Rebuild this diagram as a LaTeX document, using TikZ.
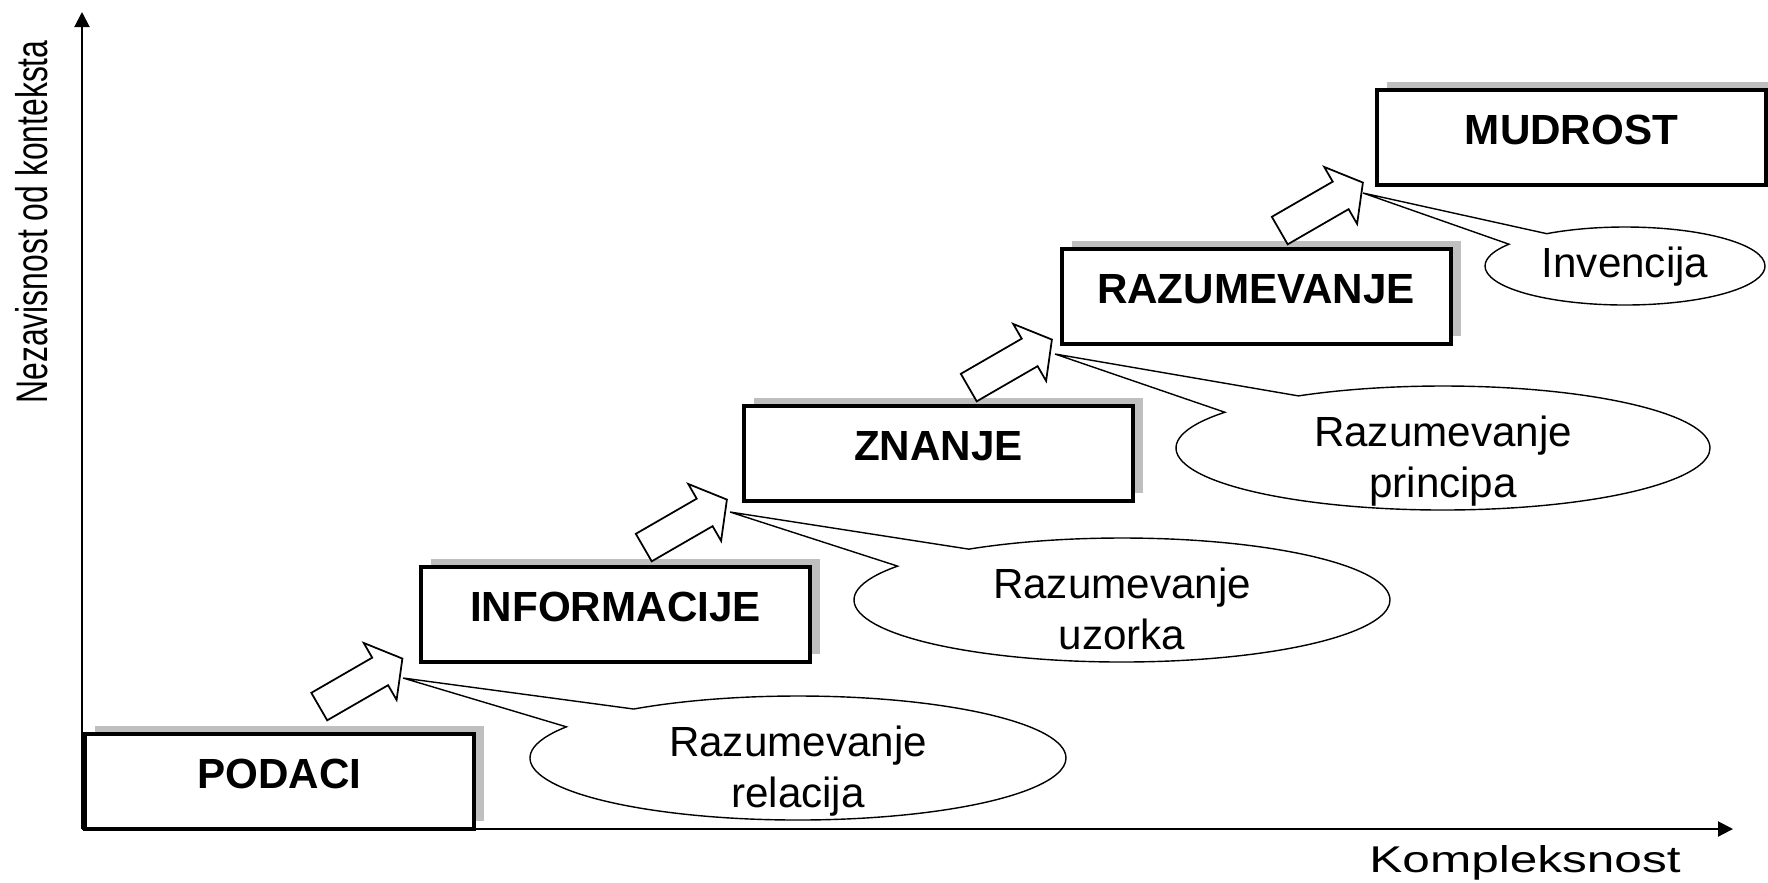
\documentclass[tikz,border=0pt]{standalone}
\usepackage{fontspec}
\setmainfont{Liberation Sans}
\usepackage{graphicx}
\usetikzlibrary{arrows.meta}
\usetikzlibrary{shapes.arrows,shapes.callouts}
\usetikzlibrary{shadows}
\tikzset{
    stepbox/.style={rectangle, draw=black, fill=white, line width=0.4mm,
        minimum width=38.9mm, minimum height=9.5mm, inner sep=0pt,
        text height=3mm, text depth=1.7mm,
        font=\fontsize{12}{14.4}\selectfont\bfseries,
        drop shadow={shadow xshift=1mm, shadow yshift=0.8mm, fill=black!25, opacity=1}},
    stepup/.style={single arrow, draw=black, fill=white, line width=0.5pt,
        minimum height=9.6mm, inner xsep=0pt, inner ysep=1.5mm,
        single arrow head extend=1.7mm, single arrow tip angle=104,
        rotate=30, anchor=tail},
    bubble/.style={ellipse callout, draw=black, fill=white, line width=0.4pt,
        inner sep=0pt, text width=30mm, align=center,
        text height=3mm, text depth=3.3mm,
        minimum width=53.6mm, minimum height=12.4mm,
        callout pointer arc=22,
        font=\fontsize{12}{14.4}\selectfont},
    axisline/.style={line width=0.2mm, -{Triangle[length=1.5mm, width=1.5mm]}},
}

\begin{document}
\begin{tikzpicture}[x=0.1mm, y=-0.1mm]
	\useasboundingbox (0,0) rectangle (1768,882);

	% axes
	\coordinate (origin) at (82,829);
	\coordinate (ytop) at (82,12);
	\coordinate (xend) at (1733,829);
	\draw[axisline] (origin) -- (ytop);
	\draw[axisline] (origin) -- (xend);
	\node[rotate=90, anchor=base, font=\fontsize{12.6}{15}\selectfont] (ylabel) at (47,222)
		{\scalebox{0.72}[1]{Nezavisnost od konteksta}};
	\node[anchor=base, font=\fontsize{10.6}{13}\selectfont] (xlabel) at (1525,872)
		{\scalebox{1.33}[1]{Kompleksnost}};

	% steps
	\node[stepbox] (podaci) at (279.5,781.5) {PODACI};
	\node[stepbox] (informacije) at (615.5,614.5) {INFORMACIJE};
	\node[stepbox] (znanje) at (938.5,453.5) {ZNANJE};
	\node[stepbox] (razumevanje) at (1256,296.5) {RAZUMEVANJE};
	\node[stepbox] (mudrost) at (1571.5,137.5) {MUDROST};

	% block arrows between the steps
	\node[stepup] (up1) at (318.5,707) {};
	\node[stepup] (up2) at (643,548) {};
	\node[stepup] (up3) at (968,388) {};
	\node[stepup] (up4) at (1279,231) {};

	% callouts
	\coordinate (p1) at (403,678);
	\coordinate (p2) at (730,512);
	\coordinate (p3) at (1055,354);
	\coordinate (p4) at (1363,193);
	\node[bubble, callout absolute pointer={(p1)}]
		(relacija) at (798,758) {Razumevanje\\relacija};
	\node[bubble, callout absolute pointer={(p2)}]
		(uzorka) at (1122,600) {Razumevanje\\uzorka};
	\node[bubble, minimum width=53.4mm, callout absolute pointer={(p3)}]
		(principa) at (1443,448) {Razumevanje\\principa};
	\node[bubble, text width=17mm, text depth=0.8mm, minimum width=28mm, minimum height=7.8mm,
		callout absolute pointer={(p4)}]
		(invencija) at (1625,266) {Invencija};
\end{tikzpicture}
\end{document}
